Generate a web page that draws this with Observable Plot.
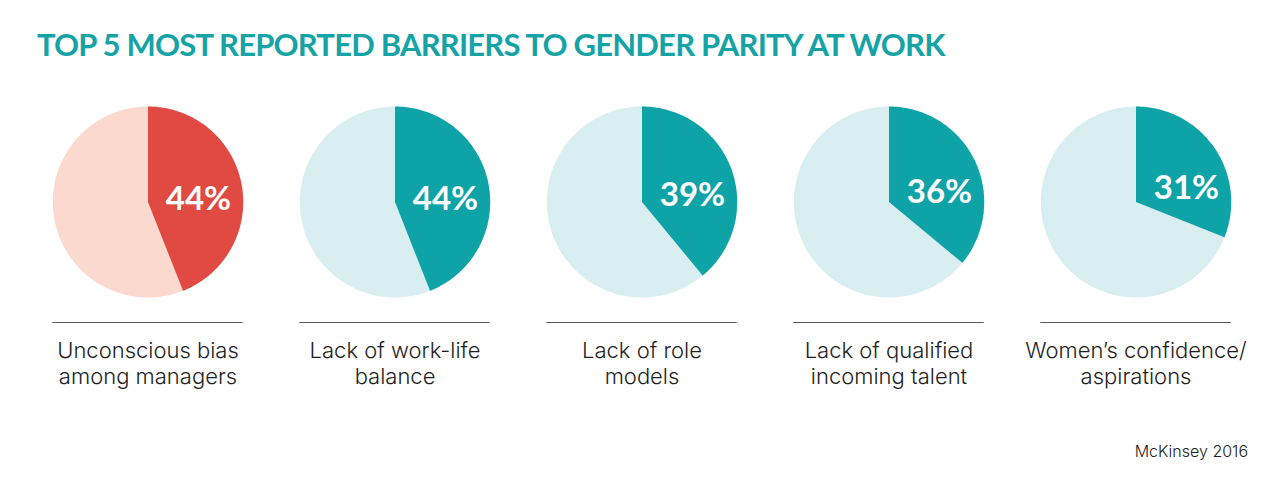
<!DOCTYPE html>
<html>
<head>
<meta charset="utf-8">
<script src="https://cdn.jsdelivr.net/npm/d3@7"></script>
<script src="https://cdn.jsdelivr.net/npm/@observablehq/plot@0.6"></script>
<style>
  html, body { margin: 0; padding: 0; background: #fff; }
  body { width: 1287px; height: 495px; position: relative; overflow: hidden; font-family: Lato, "Open Sans", sans-serif; }
  #title { position: absolute; left: 37px; top: 29px; font-size: 31px; line-height: 31px; font-weight: 700; letter-spacing: -0.8px; color: #15a3a6; white-space: nowrap; }
  #chart { position: absolute; left: 0; top: 80px; }
  #source { position: absolute; right: 39px; top: 444px; font-family: Inter, Lato, sans-serif; font-weight: 300; font-size: 16px; line-height: 15px; color: #222; white-space: nowrap; }
</style>
</head>
<body>
<div id="title"></div>
<div id="chart"></div>
<div id="source"></div>
<script>
const title = "TOP 5 MOST REPORTED BARRIERS TO GENDER PARITY AT WORK";
const source = "McKinsey 2016";
const categories = [
  "Unconscious bias among managers",
  "Lack of work-life balance",
  "Lack of role models",
  "Lack of qualified incoming talent",
  "Women’s confidence/ aspirations"
];
const labelLines = [
  ["Unconscious bias", "among managers"],
  ["Lack of work-life", "balance"],
  ["Lack of role", "models"],
  ["Lack of qualified", "incoming talent"],
  ["Women’s confidence/", "aspirations"]
];
const percents = [44, 44, 39, 36, 31];
const schemes = ["red", "teal", "teal", "teal", "teal"];

document.getElementById("title").textContent = title;
document.getElementById("source").textContent = source;

// Build slice polygons (unit circle, starting at 12 o'clock, clockwise)
const TAU = Math.PI * 2;
function arc(cat, id, key, a0, a1, withCenter) {
  const n = Math.max(2, Math.ceil((a1 - a0) / TAU * 360));
  const pts = [];
  if (withCenter) pts.push({cat, id, key, x: 0, y: 0});
  for (let k = 0; k <= n; k++) {
    const a = a0 + (a1 - a0) * k / n;
    pts.push({cat, id, key, x: Math.sin(a), y: Math.cos(a)});
  }
  if (withCenter) pts.push({cat, id, key, x: 0, y: 0});
  return pts;
}
const discRows = [], sliceRows = [], pctRows = [];
categories.forEach((cat, i) => {
  const f = percents[i] / 100;
  discRows.push(...arc(cat, "d" + i, schemes[i] + "-bg", 0, TAU, false));
  sliceRows.push(...arc(cat, "s" + i, schemes[i] + "-fg", 0, f * TAU, true));
  const mid = f * Math.PI;
  pctRows.push({cat, text: percents[i] + "%", x: 0.53, y: 0.3 * Math.cos(mid) - 0.03});
});

const R = 95.5, W = 1287, H = 340, ML = 22, MR = 26;
const band = (W - ML - MR) / categories.length;
const hx = band / 2 / R;
const cy = 121.5;

const chart = Plot.plot({
  width: W,
  height: H,
  marginLeft: ML,
  marginRight: MR,
  marginTop: 0,
  marginBottom: 0,
  fx: {domain: categories, padding: 0, axis: null, label: null},
  x: {domain: [-hx, hx], axis: null},
  y: {domain: [-(H - cy) / R, cy / R], axis: null},
  color: {
    domain: ["red-bg", "red-fg", "teal-bg", "teal-fg"],
    range: ["#fbd9cf", "#e04a43", "#d9eef1", "#0ea3a7"]
  },
  style: {fontFamily: "Lato, 'Open Sans', sans-serif", background: "transparent"},
  marks: [
    Plot.line(discRows, {fx: "cat", x: "x", y: "y", z: "id", fill: "key", stroke: null}),
    Plot.line(sliceRows, {fx: "cat", x: "x", y: "y", z: "id", fill: "key", stroke: null}),
    Plot.text(pctRows, {fx: "cat", x: "x", y: "y", text: "text", fill: "white", fontSize: 33, fontWeight: 700}),
    Plot.ruleY(categories, {fx: d => d, y: -1.262, x1: -1, x2: 1, stroke: "#555", strokeWidth: 1.2}),
    Plot.text(categories, {fx: d => d, x: 0, y: -1.681, text: (d, i) => labelLines[i].join("\n"), lineHeight: 1.19, fontSize: 22, fontWeight: 300, fontFamily: "Inter, Lato, sans-serif", fill: "#1e1e1e"})
  ]
});
document.getElementById("chart").appendChild(chart);
</script>
</body>
</html>
